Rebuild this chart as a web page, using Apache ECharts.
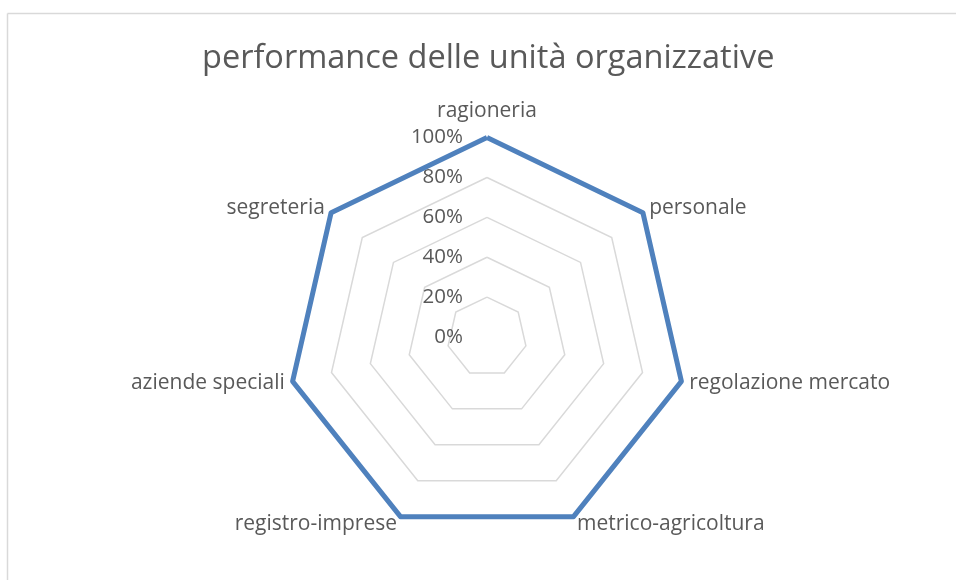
<!DOCTYPE html>
<html>
<head>
<meta charset="utf-8">
<script src="https://cdn.jsdelivr.net/npm/echarts@6/dist/echarts.min.js"></script>
<style>
html,body{margin:0;padding:0;background:#fff;}
#c{width:956px;height:580px;}
</style>
</head>
<body>
<div id="c"></div>
<script>
const titleText = 'performance delle unità organizzative';
// listed in ECharts' (counter-clockwise) order so that they read clockwise from the top
const categories = ['ragioneria','segreteria','aziende speciali','registro-imprese','metrico-agricoltura','regolazione mercato','personale'];
const values = [1,1,1,1,1,1,1];
const tickLabels = ['0%','20%','40%','60%','80%','100%'];

const chart = echarts.init(document.getElementById('c'));
const FONT = 'Open Sans';
const indicator = categories.map((n,i)=>{
  const o = {name:n, min:0, max:1};
  if(i===0){
    o.axisLabel = {show:true, color:'#595959', fontSize:20.5, fontFamily:FONT, margin:24,
      formatter:(v)=>tickLabels[Math.round(v*5)] ?? ''};
  }
  return o;
});
chart.setOption({
  animation:false,
  title:{text:titleText, left:197, top:37,
    textStyle:{fontFamily:FONT, fontSize:32.5, fontWeight:'normal', color:'#595959'}},
  graphic:[
    {type:'line', shape:{x1:7.5,y1:13.5,x2:960,y2:13.5}, style:{stroke:'#D9D9D9', lineWidth:1.5}},
    {type:'line', shape:{x1:7.5,y1:13.5,x2:7.5,y2:600}, style:{stroke:'#D9D9D9', lineWidth:1.5}}
  ],
  radar:{
    center:[487,337], radius:199.4, shape:'polygon', splitNumber:5, startAngle:90,
    indicator:indicator,
    nameGap:8,
    axisName:{color:'#595959', fontSize:21, fontFamily:FONT,
      formatter:(name)=> name==='ragioneria' ? '{t|'+name+'}' : name,
      rich:{t:{fontSize:21, fontFamily:FONT, color:'#595959', padding:[0,0,8,0]}}},
    axisLine:{show:false},
    axisTick:{show:false},
    axisLabel:{show:false},
    splitArea:{show:false},
    splitLine:{lineStyle:{color:'#D9D9D9', width:1.5}}
  },
  series:[{
    type:'radar', symbol:'none',
    lineStyle:{color:'#4F81BD', width:5},
    data:[{value:values, name:'performance'}]
  }]
});
</script>
</body>
</html>
